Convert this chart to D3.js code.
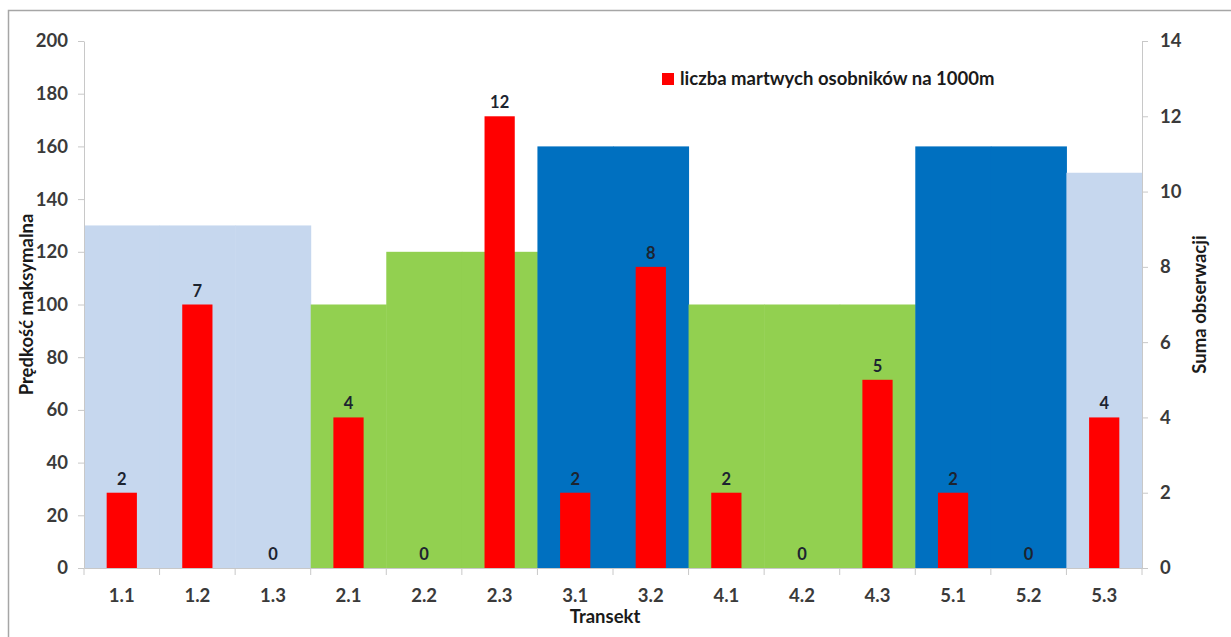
<!DOCTYPE html>
<html>
<head>
<meta charset="utf-8">
<script src="https://cdn.jsdelivr.net/npm/d3@7"></script>
<style>
  html, body { margin: 0; padding: 0; background: #fff; }
  svg { display: block; font-family: Lato, "Open Sans", sans-serif; }
</style>
</head>
<body>
<svg id="chart" width="1231" height="637"></svg>
<script>
// Transect labels
const categories = ["1.1","1.2","1.3","2.1","2.2","2.3","3.1","3.2","4.1","4.2","4.3","5.1","5.2","5.3"];
// Maximum speed per transect (left axis), drawn as full-width background columns
const speedValues = [130,130,130,100,120,120,160,160,100,100,100,160,160,150];
// Speed class per transect, used for the column colour
const speedGroups = ["a","a","a","g","g","g","b","b","g","g","g","b","b","a"];
// Dead individuals per 1000 m (right axis)
const deadValues = [2,7,0,4,0,12,2,8,2,0,5,2,0,4];
// Axis ticks
const leftTicks = [0,20,40,60,80,100,120,140,160,180,200];
const rightTicks = [0,2,4,6,8,10,12,14];

const groupColor = { a: "#C6D7EE", g: "#92D050", b: "#0070C0" };
const textColor = "#3a3a3a";
const FS = 18.5;

const svg = d3.select("#chart");
const W = 1231, H = 637;
const x0 = 84, x1 = 1142;
const y0 = 568, y1 = 41;

// Outer frame
svg.append("rect")
  .attr("x", 8.5).attr("y", 10.5)
  .attr("width", 1300).attr("height", 700)
  .attr("fill", "none").attr("stroke", "#a6a6a6").attr("stroke-width", 1.5);

const x = d3.scaleBand().domain(categories).range([x0, x1]).paddingInner(0).paddingOuter(0);
const yL = d3.scaleLinear().domain([0, 200]).range([y0, y1]);
const yR = d3.scaleLinear().domain([0, 14]).range([y0, y1]);

// Background columns: maximum speed
svg.append("g").selectAll("rect")
  .data(categories.map((c, i) => ({ c, v: speedValues[i], g: speedGroups[i] })))
  .join("rect")
  .attr("x", d => x(d.c))
  .attr("width", x.bandwidth() + 0.5)
  .attr("y", d => yL(d.v))
  .attr("height", d => yL(0) - yL(d.v))
  .attr("fill", d => groupColor[d.g]);

// Red bars: dead individuals
const barW = x.bandwidth() * 0.4;
const dead = categories.map((c, i) => ({ c, v: deadValues[i] }));
svg.append("g").selectAll("rect")
  .data(dead)
  .join("rect")
  .attr("x", d => x(d.c) + (x.bandwidth() - barW) / 2)
  .attr("width", barW)
  .attr("y", d => yR(d.v))
  .attr("height", d => yR(0) - yR(d.v))
  .attr("fill", "#FF0000");

// Value labels above the red bars
svg.append("g").selectAll("text")
  .data(dead)
  .join("text")
  .attr("x", d => x(d.c) + x.bandwidth() / 2)
  .attr("y", d => yR(d.v) - 8)
  .attr("text-anchor", "middle")
  .attr("font-size", 16.5).attr("font-weight", 700)
  .attr("fill", "#1c2430")
  .text(d => d.v);

// Axes
function styleAxis(g) {
  g.select(".domain").attr("stroke", "#c8c8c8");
  g.selectAll(".tick line").attr("stroke", "#c8c8c8");
  g.selectAll(".tick text")
    .attr("fill", textColor)
    .attr("font-size", FS).attr("font-weight", 700)
    .attr("font-family", "Lato, sans-serif");
}

svg.append("g")
  .attr("transform", `translate(${x0},0)`)
  .call(d3.axisLeft(yL).tickValues(leftTicks).tickSize(6).tickPadding(10).tickSizeOuter(0))
  .call(styleAxis);

svg.append("g")
  .attr("transform", `translate(${x1},0)`)
  .call(d3.axisRight(yR).tickValues(rightTicks).tickSize(6).tickPadding(12).tickSizeOuter(0))
  .call(styleAxis);

const xAxis = svg.append("g")
  .attr("transform", `translate(0,${y0})`)
  .call(d3.axisBottom(x).tickSize(0).tickPadding(21).tickSizeOuter(0))
  .call(styleAxis);
// Tick marks sit on the band boundaries
xAxis.selectAll(".bound")
  .data(d3.range(categories.length + 1))
  .join("line")
  .attr("class", "bound")
  .attr("x1", i => x0 + i * x.step()).attr("x2", i => x0 + i * x.step())
  .attr("y1", 0).attr("y2", 7)
  .attr("stroke", "#c8c8c8");

// Axis titles
svg.append("text")
  .attr("transform", `translate(33,${(y0 + y1) / 2}) rotate(-90)`)
  .attr("text-anchor", "middle")
  .attr("font-size", FS).attr("font-weight", 700).attr("fill", "#1a1a1a")
  .text("Prędkość maksymalna");

svg.append("text")
  .attr("transform", `translate(1206,${(y0 + y1) / 2}) rotate(-90)`)
  .attr("text-anchor", "middle")
  .attr("font-size", FS).attr("font-weight", 700).attr("fill", "#1a1a1a")
  .text("Suma obserwacji");

svg.append("text")
  .attr("x", (x0 + x1) / 2 - 8).attr("y", 623)
  .attr("text-anchor", "middle")
  .attr("font-size", FS).attr("font-weight", 700).attr("fill", "#1a1a1a")
  .text("Transekt");

// Legend
const legend = svg.append("g").attr("transform", "translate(662,73)");
legend.append("rect").attr("width", 12).attr("height", 12).attr("fill", "#FF0000");
legend.append("text")
  .attr("x", 18).attr("y", 12)
  .attr("font-size", FS).attr("font-weight", 700).attr("fill", "#1a1a1a")
  .text("liczba martwych osobników na 1000m");
</script>
</body>
</html>
